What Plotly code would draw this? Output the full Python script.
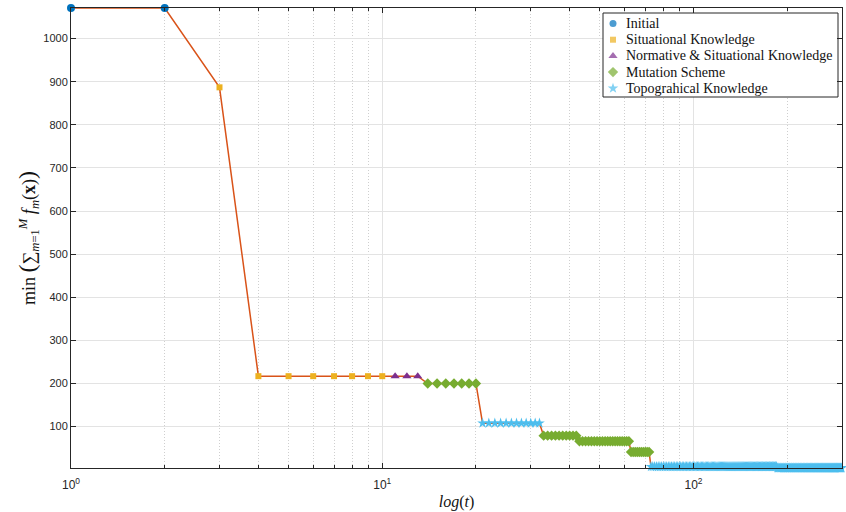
import plotly.graph_objects as go

# Step segments: iteration ranges, best value, and the operator used
seg_start = [1, 3, 4, 11, 14, 21, 33, 43, 63, 73, 186]
seg_end = [2, 3, 10, 13, 20, 32, 42, 62, 72, 185, 300]
seg_value = [1071, 887, 217, 217, 200, 108, 79, 66, 41, 7, 4]
seg_cat = ["Initial", "Situational Knowledge", "Situational Knowledge",
           "Normative & Situational Knowledge", "Mutation Scheme",
           "Topograhical Knowledge", "Mutation Scheme", "Mutation Scheme",
           "Mutation Scheme", "Topograhical Knowledge", "Topograhical Knowledge"]

categories = ["Initial", "Situational Knowledge", "Normative & Situational Knowledge",
              "Mutation Scheme", "Topograhical Knowledge"]
cat_color = ["#0072BD", "#EDB120", "#7E2F8E", "#77AC30", "#4DBEEE"]
cat_symbol = ["circle", "square", "triangle-up", "diamond", "star"]
cat_size = [8, 6, 8, 8, 8]

y_tick_vals = [100, 200, 300, 400, 500, 600, 700, 800, 900, 1000]
x_tick_vals = [1, 10, 100]
x_tick_text = ["10<sup>0</sup>", "10<sup>1</sup>", "10<sup>2</sup>"]
x_minor_vals = [2, 3, 4, 5, 6, 7, 8, 9, 20, 30, 40, 50, 60, 70, 80, 90, 200, 300]

W, H = 846, 512
ML, MR, MT, MB = 71, 4, 8, 44

t_all, v_all, c_all = [], [], []
for s, e, v, c in zip(seg_start, seg_end, seg_value, seg_cat):
    for t in range(s, e + 1):
        t_all.append(t)
        v_all.append(v)
        c_all.append(c)

fig = go.Figure()
fig.add_trace(go.Scatter(x=t_all, y=v_all, mode="lines",
                         line=dict(color="#D95319", width=1.5),
                         showlegend=False, hoverinfo="skip", cliponaxis=False))
for cat, col, sym, sz in zip(categories, cat_color, cat_symbol, cat_size):
    xs = [t for t, c in zip(t_all, c_all) if c == cat]
    ys = [v for v, c in zip(v_all, c_all) if c == cat]
    fig.add_trace(go.Scatter(x=xs, y=ys, mode="markers", name=cat, showlegend=False,
                             marker=dict(color=col, symbol=sym, size=sz, line=dict(width=0)),
                             cliponaxis=False))

# Manual legend on an overlay axis in pixel units
box_l, box_r, box_t, box_b = 603, 838, 13, 97
row_y0, row_dy = 23.5, 16.2
mk_x, txt_x = 613, 624
fig.add_trace(go.Scatter(x=[box_l, box_r, box_r, box_l, box_l],
                         y=[box_t, box_t, box_b, box_b, box_t],
                         mode="lines", fill="toself", fillcolor="white",
                         line=dict(color="#262626", width=1),
                         xaxis="x2", yaxis="y2", showlegend=False, hoverinfo="skip"))
leg_sizes = [7, 6, 8, 8, 8]
fig.add_trace(go.Scatter(x=[mk_x] * len(categories),
                         y=[row_y0 + i * row_dy for i in range(len(categories))],
                         mode="markers",
                         marker=dict(color=cat_color, symbol=cat_symbol, size=leg_sizes, line=dict(width=0)),
                         xaxis="x2", yaxis="y2", showlegend=False, hoverinfo="skip", cliponaxis=False))
pw = W - ML - MR
ph = H - MT - MB
for i, cat in enumerate(categories):
    fig.add_annotation(x=(txt_x - ML) / pw, y=1 - (row_y0 + i * row_dy - MT) / ph,
                       xref="paper", yref="paper", xanchor="left", yanchor="middle",
                       text=cat, showarrow=False,
                       font=dict(family="Liberation Serif, Times New Roman", size=14, color="#111"))

# y-axis title
fig.add_annotation(x=(28 - ML) / pw, y=0.5, xref="paper", yref="paper",
                   xanchor="center", yanchor="middle", textangle=-90, showarrow=False,
                   text=("min <span style='font-size:24px'>(</span>∑<sub><i>m</i>=1</sub><sup><i>M</i></sup> "
                         "<i>f</i><sub><i>m</i></sub>(<b>x</b>)<span style='font-size:24px'>)</span>"),
                   font=dict(family="Liberation Serif, Times New Roman", size=18, color="#111"))

axis_col = "#262626"
fig.update_layout(
    width=W, height=H,
    margin=dict(l=ML, r=MR, t=MT, b=MB),
    plot_bgcolor="white", paper_bgcolor="white",
    font=dict(family="Liberation Sans, Arial", size=11, color=axis_col),
    showlegend=False,
    xaxis=dict(type="log", range=[0, 2.4771], tickvals=x_tick_vals, ticktext=x_tick_text,
               ticks="inside", ticklen=5, tickcolor=axis_col, ticklabelstandoff=6,
               tickfont=dict(size=12),
               showline=True, linecolor=axis_col, linewidth=1, mirror="ticks",
               showgrid=True, gridcolor="#E3E3E3", gridwidth=1, zeroline=False,
               minor=dict(tickvals=x_minor_vals, ticks="inside", ticklen=3, tickcolor=axis_col,
                          showgrid=True, gridcolor="#CFCFCF", griddash="1px,2px", gridwidth=1),
               title=dict(text="<i>log</i>(<i>t</i>)",
                          font=dict(family="Liberation Serif, Times New Roman", size=16, color="#111"),
                          standoff=4)),
    yaxis=dict(range=[4, 1071], tickvals=y_tick_vals,
               ticks="inside", ticklen=5, tickcolor=axis_col,
               showline=True, linecolor=axis_col, linewidth=1, mirror="ticks",
               showgrid=True, gridcolor="#E3E3E3", gridwidth=1, zeroline=False),
    xaxis2=dict(range=[ML, W - MR], overlaying="x", visible=False, fixedrange=True),
    yaxis2=dict(range=[H - MB, MT], overlaying="y", visible=False, fixedrange=True),
)

fig.write_html("out.html")
